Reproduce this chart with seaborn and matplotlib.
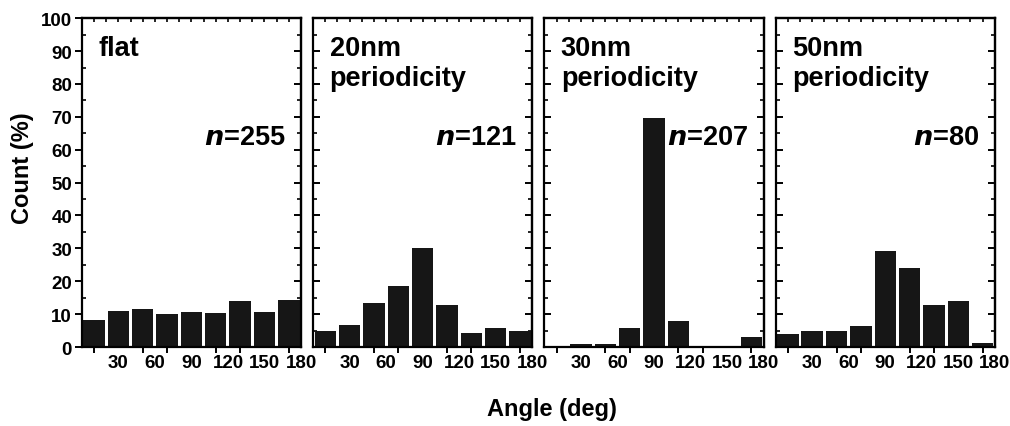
import numpy as np
import pandas as pd
import matplotlib
matplotlib.use("Agg")
import matplotlib.pyplot as plt
import seaborn as sns

# angle bins (deg) and counts (%)
bin_edges = [0, 20, 40, 60, 80, 100, 120, 140, 160, 180]
bin_centers = [10, 30, 50, 70, 90, 110, 130, 150, 170]
flat = [8.1, 11.1, 11.7, 10.0, 10.7, 10.3, 14.0, 10.7, 14.4]
p20 = [5.0, 6.7, 13.4, 18.5, 30.2, 12.7, 4.2, 5.9, 5.0]
p30 = [0.0, 0.8, 1.0, 5.7, 69.5, 7.8, 0.0, 0.0, 2.9]
p50 = [3.9, 5.0, 5.0, 6.4, 29.2, 24.1, 12.9, 13.9, 1.1]
titles = ["flat", "20nm\nperiodicity", "30nm\nperiodicity", "50nm\nperiodicity"]
n_labels = ["255", "121", "207", "80"]
x_ticks = [30, 60, 90, 120, 150, 180]

sns.set_style("white")
plt.rcParams["font.family"] = ["Liberation Sans", "DejaVu Sans"]
plt.rcParams["font.weight"] = "bold"
for key in ["text.color", "xtick.color", "ytick.color", "axes.labelcolor"]:
    plt.rcParams[key] = "black"

fig, axes = plt.subplots(1, 4, figsize=(10.1, 4.27), dpi=100, sharey=True)
fig.subplots_adjust(left=0.081, right=0.985, bottom=0.185, top=0.955, wspace=0.055)

for i, (ax, vals) in enumerate(zip(axes, [flat, p20, p30, p50])):
    df = pd.DataFrame({"angle": bin_centers, "count": vals})
    sns.histplot(data=df, x="angle", weights="count", bins=bin_edges, shrink=0.88,
                 color="#161616", alpha=1, edgecolor="none", linewidth=0, ax=ax)
    ax.set_xlim(0, 180)
    ax.set_ylim(0, 100)
    ax.set_xlabel("")
    ax.set_ylabel("")
    for s in ax.spines.values():
        s.set_visible(True)
        s.set_linewidth(1.6)
        s.set_color("black")

    # bottom axis: labels at 30-step, small outward ticks at bar centres
    ax.set_xticks(x_ticks)
    ax.set_xticklabels([str(t) for t in x_ticks], fontsize=13.5, fontweight="bold")
    ax.set_xticks(bin_centers, minor=True)
    ax.tick_params(axis="x", which="major", length=0, pad=5)
    ax.tick_params(axis="x", which="minor", direction="out", length=4, width=1.4, bottom=True)

    # left axis
    ax.set_yticks(np.arange(0, 101, 10))
    ax.set_yticks(np.arange(5, 100, 10), minor=True)
    if i == 0:
        ax.tick_params(axis="y", which="major", direction="out", length=5, width=1.4,
                       labelsize=13.5, left=True, pad=2)
        ax.tick_params(axis="y", which="minor", direction="in", length=3, width=1.2, left=True)
        for lab in ax.get_yticklabels():
            lab.set_fontweight("bold")
    else:
        ax.tick_params(axis="y", which="both", direction="in", left=True, labelleft=False)
        ax.tick_params(axis="y", which="major", length=5, width=1.4)
        ax.tick_params(axis="y", which="minor", length=3, width=1.2)

    # mirrored inward ticks on top and right
    top = ax.secondary_xaxis("top")
    top.set_xticks(np.arange(10, 180, 10))
    top.tick_params(direction="in", length=3, width=1.2, labeltop=False)
    top.spines["top"].set_linewidth(1.6)
    right = ax.secondary_yaxis("right")
    right.set_yticks(np.arange(10, 100, 10))
    right.set_yticks(np.arange(5, 100, 10), minor=True)
    right.tick_params(which="major", direction="in", length=5, width=1.4, labelright=False)
    right.tick_params(which="minor", direction="in", length=3, width=1.2, labelright=False)
    right.spines["right"].set_linewidth(1.6)

    ax.text(0.075, 0.95, titles[i], transform=ax.transAxes, ha="left", va="top",
            fontsize=19.5, fontweight="bold", linespacing=1.2)
    ax.text(0.93, 0.64, r"$\bfit{n}$=" + n_labels[i], transform=ax.transAxes,
            ha="right", va="center", fontsize=19.5, fontweight="bold")

fig.text(0.022, 0.605, "Count (%)", rotation=90, ha="center", va="center",
         fontsize=17, fontweight="bold")
fig.text(0.546, 0.04, "Angle (deg)", ha="center", va="center",
         fontsize=17, fontweight="bold")

fig.savefig("out.png", dpi=100)
